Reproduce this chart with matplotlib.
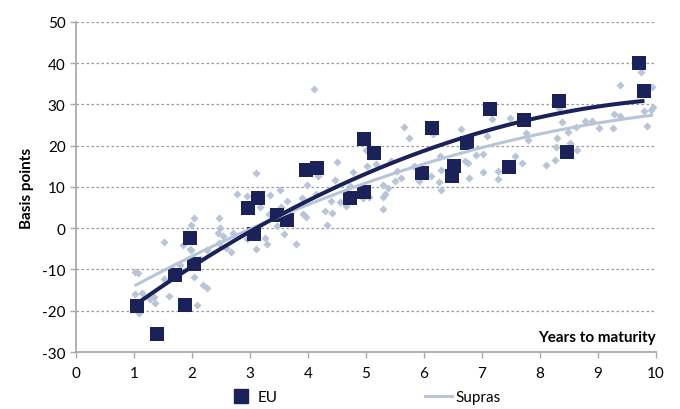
import numpy as np
import matplotlib
matplotlib.use('Agg')
import matplotlib.pyplot as plt
from matplotlib.lines import Line2D

plt.rcParams['font.family'] = ['Lato', 'DejaVu Sans']
plt.rcParams['axes.unicode_minus'] = False

# EU bonds: years to maturity / spread in basis points
eu_years = [1.05, 1.39, 1.71, 1.88, 1.97, 2.03, 2.97, 3.06, 3.14, 3.47, 3.63,
            3.97, 4.15, 4.72, 4.97, 4.97, 5.14, 5.97, 6.14, 6.48, 6.52, 6.74,
            7.14, 7.47, 7.73, 8.32, 8.47, 9.71, 9.80]
eu_bp = [-18.8, -25.7, -11.3, -18.6, -2.4, -8.6, 4.8, -1.4, 7.3, 3.2, 2.1,
         14.0, 14.5, 7.3, 8.7, 21.6, 18.2, 13.3, 24.2, 12.7, 15.0, 20.6,
         28.8, 14.8, 26.2, 30.8, 18.4, 40.0, 33.2]

# Supras
supra_years = [1.01, 1.06, 1.01, 1.08, 1.13, 1.27, 1.34, 1.37, 1.51, 1.51,
               1.60, 1.66, 1.79, 1.85, 1.97, 1.99, 1.99, 2.03, 2.03, 2.09,
               2.14, 2.19, 2.26, 2.26, 2.44, 2.46, 2.47, 2.48, 2.54, 2.59,
               2.68, 2.70, 2.78, 2.94, 2.94, 3.10, 3.11, 3.17, 3.17, 3.26,
               3.30, 3.33, 3.34, 3.46, 3.51, 3.53, 3.59, 3.63, 3.80, 3.89,
               3.92, 3.97, 3.99, 4.11, 4.13, 4.17, 4.30, 4.32, 4.40, 4.42,
               4.46, 4.50, 4.55, 4.66, 4.72, 4.77, 4.95, 5.00, 5.02, 5.05,
               5.17, 5.29, 5.29, 5.30, 5.32, 5.37, 5.43, 5.50, 5.53, 5.61,
               5.66, 5.74, 5.82, 5.92, 6.12, 6.16, 6.26, 6.28, 6.29, 6.30,
               6.64, 6.70, 6.75, 6.78, 6.90, 7.02, 7.02, 7.09, 7.17, 7.28,
               7.28, 7.49, 7.57, 7.69, 7.75, 7.80, 8.10, 8.26, 8.28, 8.29,
               8.33, 8.37, 8.49, 8.52, 8.62, 8.63, 8.77, 8.89, 9.01, 9.26,
               9.28, 9.37, 9.37, 9.74, 9.80, 9.85, 9.91, 9.95, 9.93]
supra_bp = [-10.7, -10.9, -16.0, -20.6, -15.7, -17.2, -16.7, -18.0, -3.4, -12.3,
            -16.5, -9.9, -8.8, -4.0, -5.0, -5.2, 0.8, 2.5, -11.7, -18.6,
            -7.5, -13.8, -14.6, -5.2, -1.2, 2.5, -3.6, 0.0, -1.8, -4.9,
            -5.8, -1.2, 8.3, -2.6, 7.7, -5.0, 13.3, 5.1, 8.1, -2.4,
            -3.9, 3.5, 8.1, 0.6, 9.3, 5.2, -1.5, 6.5, -3.7, 7.3,
            3.5, 2.7, 10.6, 33.8, 8.3, 12.6, 4.2, 0.9, 6.7, 3.7,
            11.7, 16.0, 6.4, 5.5, 10.2, 13.6, 7.3, 18.9, 15.0, 7.5,
            15.6, 4.7, 7.5, 10.5, 8.3, 9.7, 16.4, 11.5, 13.9, 12.1,
            24.5, 21.8, 15.0, 11.5, 12.7, 22.8, 11.3, 17.6, 9.3, 14.0,
            24.1, 16.4, 15.8, 12.1, 17.8, 18.0, 13.6, 22.3, 26.4, 13.9,
            11.9, 26.6, 17.4, 15.7, 23.2, 21.4, 15.4, 16.6, 19.8, 21.9,
            29.1, 25.7, 23.4, 20.6, 24.5, 19.0, 26.0, 26.0, 24.2, 24.2,
            27.6, 34.6, 27.1, 37.8, 28.5, 24.7, 28.7, 29.3, 34.2]

navy = '#1b2259'
light = '#b9c5d6'

fig = plt.figure(figsize=(6.8, 4.1), dpi=100)
ax = fig.add_axes([0.1118, 0.139, 0.853, 0.805])

ax.scatter(supra_years, supra_bp, marker='D', s=17, color=light, lw=0, zorder=2)
ax.scatter(eu_years, eu_bp, marker='s', s=88, color=navy, lw=0, zorder=3)

# 2nd order polynomial trend lines
def trend(x, y):
    c = np.polyfit(x, y, 2)
    xs = np.linspace(min(x), max(x), 100)
    return xs, np.polyval(c, xs)

xs, ys = trend(supra_years, supra_bp)
ax.plot(xs, ys, color=light, lw=2.2, zorder=4, solid_capstyle='butt')
xs, ys = trend(eu_years, eu_bp)
ax.plot(xs, ys, color=navy, lw=2.9, zorder=5, solid_capstyle='butt')

ax.set_xlim(0, 10)
ax.set_ylim(-30, 50)
ax.set_xticks(range(0, 11))
ax.set_yticks(range(-30, 51, 10))
for v in range(-20, 51, 10):
    ax.axhline(v, color='#9a9a9a', lw=0.9, ls=(0, (2, 2)), zorder=1)

for s in ['top', 'right']:
    ax.spines[s].set_visible(False)
for s in ['left', 'bottom']:
    ax.spines[s].set_color('#aaaaaa')
    ax.spines[s].set_linewidth(1.3)
ax.tick_params(axis='both', colors='#aaaaaa', labelcolor='black', labelsize=11,
               length=4, width=1.0)
ax.tick_params(axis='x', pad=6)

ax.set_ylabel('Basis points', fontsize=11, fontweight='bold', labelpad=6)
ax.text(1.0, 0.045, 'Years to maturity', transform=ax.transAxes, ha='right',
        va='center', fontsize=11, fontweight='bold')

handles = [Line2D([], [], marker='s', ls='none', color=navy, markersize=9.4),
           Line2D([], [], color=light, lw=2.2)]
fig.legend(handles, ['EU', 'Supras'], loc='center', bbox_to_anchor=(0.535, 0.029),
           ncol=2, frameon=False, fontsize=11, handlelength=1.8,
           handletextpad=0.2, columnspacing=9.6)

fig.savefig('out.png', dpi=100)
